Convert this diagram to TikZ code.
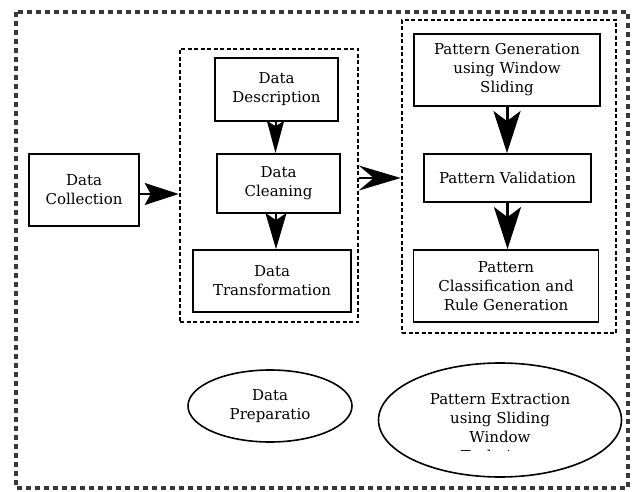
\documentclass[tikz,border=0pt]{standalone}
\usepackage{fontspec}
\setmainfont{DejaVu Serif}
\usetikzlibrary{arrows.meta,shapes.geometric}

\begin{document}
\begin{tikzpicture}[x=1pt,y=-1pt,
  every node/.style={font=\fontsize{15}{19}\selectfont, align=center, inner sep=0pt},
  stepbox/.style={draw=black, line width=1.8pt, fill=white},
  groupbox/.style={draw=black, line width=2.6pt, dash pattern=on 4pt off 2.5pt},
  outerbox/.style={draw=black!78, line width=4.2pt, dash pattern=on 5pt off 4pt},
  oval/.style={ellipse, draw=black, line width=1.6pt},
]
\useasboundingbox (0,0) rectangle (637,492);

% outer frame
\draw[outerbox] (16,12) rectangle (628,488);

% group frames
\node[groupbox, minimum width=178pt, minimum height=273pt] (prepgroup) at (269,185.5) {};
\node[groupbox, minimum width=214pt, minimum height=313pt] (extgroup) at (509,176.5) {};

% steps
\node[stepbox, minimum width=110pt, minimum height=72pt] (coll) at (84,190) {Data\\Collection};
\node[stepbox, minimum width=123pt, minimum height=63pt] (desc) at (276.5,89.5) {Data\\Description};
\node[stepbox, minimum width=123pt, minimum height=59pt] (clean) at (278.5,183.5) {Data\\Cleaning};
\node[stepbox, minimum width=158pt, minimum height=62pt] (trans) at (272,281) {Data\\Transformation};

\node[stepbox, minimum width=186pt, minimum height=72pt] (gen) at (507,70) {Pattern Generation\\using Window\\Sliding};
\node[stepbox, minimum width=167pt, minimum height=48pt] (val) at (507.5,178) {Pattern Validation};
\node[stepbox, minimum width=185pt, minimum height=72pt] (cls) at (506,286) {Pattern\\Classification and\\Rule Generation};

% connectors
\draw[line width=2.2pt, -{Stealth[length=34pt,width=22pt,inset=6pt]}]
  ([yshift=-4pt]coll.east) -- ([yshift=-4pt]coll.east -| prepgroup.west);
\draw[line width=2pt, -{Stealth[length=32pt,width=17pt,inset=5pt]}]
  ([xshift=-1pt]desc.south) -- ([xshift=-1pt]desc.south |- clean.north);
\draw[line width=2pt, -{Stealth[length=36pt,width=21pt,inset=7pt]}]
  ([xshift=4pt]trans.north |- clean.south) -- ([xshift=4pt]trans.north);
\draw[line width=2.4pt, -{Stealth[length=42pt,width=25pt,inset=15pt]}]
  (prepgroup.east |- val.west) -- (extgroup.west |- val.west);
\draw[line width=3pt, -{Stealth[length=42pt,width=27pt,inset=10pt]}]
  (gen.south) -- (gen.south |- val.north);
\draw[line width=3pt, -{Stealth[length=42pt,width=27pt,inset=10pt]}]
  (val.south) -- (val.south |- cls.north);

% phase labels
\node[oval, minimum width=164pt, minimum height=72pt] (prep) at (270,406) {Data\\Preparatio};
\node[oval, minimum width=243pt, minimum height=114pt] (ext) at (500,420) {};
\begin{scope}
  \clip (379,363) rectangle (622,450.5);
  \node (exttext) at ([yshift=-9pt]ext.center) {Pattern Extraction\\using Sliding\\Window\\Technique};
\end{scope}
\end{tikzpicture}
\end{document}
